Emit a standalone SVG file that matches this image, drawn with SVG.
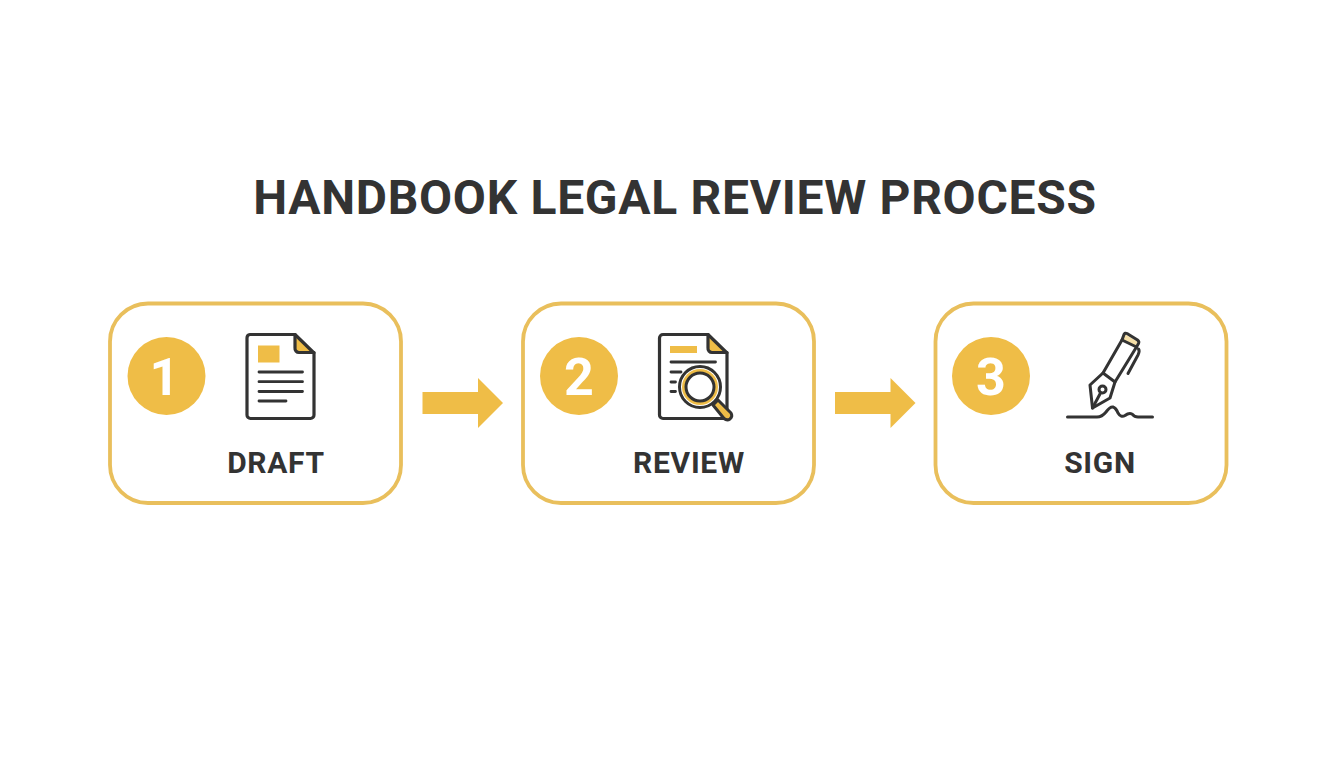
<svg xmlns="http://www.w3.org/2000/svg" width="1344" height="768" viewBox="0 0 1344 768">
<style>
.box{fill:#fff;stroke:#e9bf5c;stroke-width:3.8}
.badge{fill:#efbd47}
.num{font-family:Roboto,"Liberation Sans",sans-serif;font-weight:700;font-size:52px;fill:#fff;text-anchor:middle}
.lab{font-family:Roboto,"Liberation Sans",sans-serif;font-weight:700;font-size:30px;fill:#333;text-anchor:middle;letter-spacing:.7px}
.ln{fill:none;stroke:#333;stroke-width:3.200;stroke-linecap:round;stroke-linejoin:round}
.tn{fill:none;stroke:#333;stroke-width:3;stroke-linecap:round;stroke-linejoin:round}
.ac{fill:#efbd47}
.arrow{fill:#efbd47}
</style>
<rect width="1344" height="768" fill="#fff"/>
<text x="675" y="213.500" font-family="Roboto,'Liberation Sans',sans-serif" font-weight="700" font-size="48" letter-spacing=".7" fill="#333" text-anchor="middle">HANDBOOK LEGAL REVIEW PROCESS</text>
<g id="connectors">
<path class="arrow" d="M422.500 392H478V378L503 403L478 428V414H422.500Z"/>
<path class="arrow" d="M835 392H890.500V378L915.500 403L890.500 428V414H835Z"/>
</g>
<g id="node-draft">
<rect class="box" x="110" y="303.500" width="291" height="199.500" rx="38"/>
<circle class="badge" cx="166.500" cy="376" r="39"/>
<text class="num" x="164.500" y="395">1</text>
<path class="ac" d="M296 335L313 352H296Z"/>
<path class="ln" d="M250 334.500H295L314 353V415A3.500 3.500 0 0 1 310.500 418.500H250.500A3.500 3.500 0 0 1 247 415V338A3.500 3.500 0 0 1 250 334.500Z"/>
<path class="ln" d="M295 334.500V348A4 4 0 0 0 299 352.500H314"/>
<rect class="ac" x="258" y="345.500" width="21.500" height="17"/>
<path class="ln" style="stroke-width:2.800" d="M259 372H302.500M259 381.700H302.500M259 391.500H302.500M259 401H286"/>
<text class="lab" x="276" y="473">DRAFT</text>
</g>
<g id="node-review">
<rect class="box" x="523" y="303.500" width="291" height="199.500" rx="38"/>
<circle class="badge" cx="579" cy="376" r="39"/>
<text class="num" x="579" y="395">2</text>
<path class="ac" d="M709 335L726 352H709Z"/>
<path class="ln" d="M663 334.500H708L727 353V415A3.500 3.500 0 0 1 723.500 418.500H663A3.500 3.500 0 0 1 659.500 415V338A3.500 3.500 0 0 1 663 334.500Z"/>
<path class="ln" d="M708 334.500V348A4 4 0 0 0 712 352.500H727"/>
<rect class="ac" x="670" y="346" width="27" height="7"/>
<path class="ln" style="stroke-width:2.800" d="M671 362H715.500M671 372H681M671 382H675.500M671 391.500H675.500"/>
<path d="M713 405L718 400L731 413Q733 416 730 419Q727 421 724 418.500Z" fill="#efbd47" stroke="#333" stroke-width="3" stroke-linejoin="round"/>
<circle cx="700" cy="387" r="18" fill="#efbd47"/>
<circle cx="700" cy="387" r="14" fill="#fff" stroke="#333" stroke-width="3"/>
<circle cx="700" cy="387" r="20.500" fill="none" stroke="#333" stroke-width="3"/>
<text class="lab" x="689" y="473">REVIEW</text>
</g>
<g id="node-sign">
<rect class="box" x="935.500" y="303.500" width="291" height="199.500" rx="38"/>
<circle class="badge" cx="991" cy="376" r="39"/>
<text class="num" x="991" y="395">3</text>
<path d="M1125.500 334.500L1138 342L1135 346.500L1122.500 339.500Z" fill="#f5dfa8"/>
<path class="tn" d="M1124 334.500Q1125 332.500 1127 333.500L1137.500 340Q1139.500 341.500 1138.500 343.500L1136.500 347L1115 382L1103 373L1122 340Z"/>
<path class="tn" d="M1122 340L1136.500 347"/>
<path class="tn" d="M1138.500 349Q1140 351 1138 355L1128 373.500"/>
<path class="tn" d="M1103 373L1090 385L1092.500 408L1110 398L1115 382"/>
<circle class="tn" cx="1102.500" cy="389.500" r="3.500"/>
<path class="tn" d="M1100.500 393L1092.500 408"/>
<path class="tn" d="M1067.500 417H1097Q1102 417 1106 412Q1110 406.500 1113 407Q1116 408 1118 413Q1121 418 1125 415.500Q1129 412.500 1132 414Q1135 417.500 1139 417H1152.500"/>
<text class="lab" x="1100" y="473">SIGN</text>
</g>
</svg>
